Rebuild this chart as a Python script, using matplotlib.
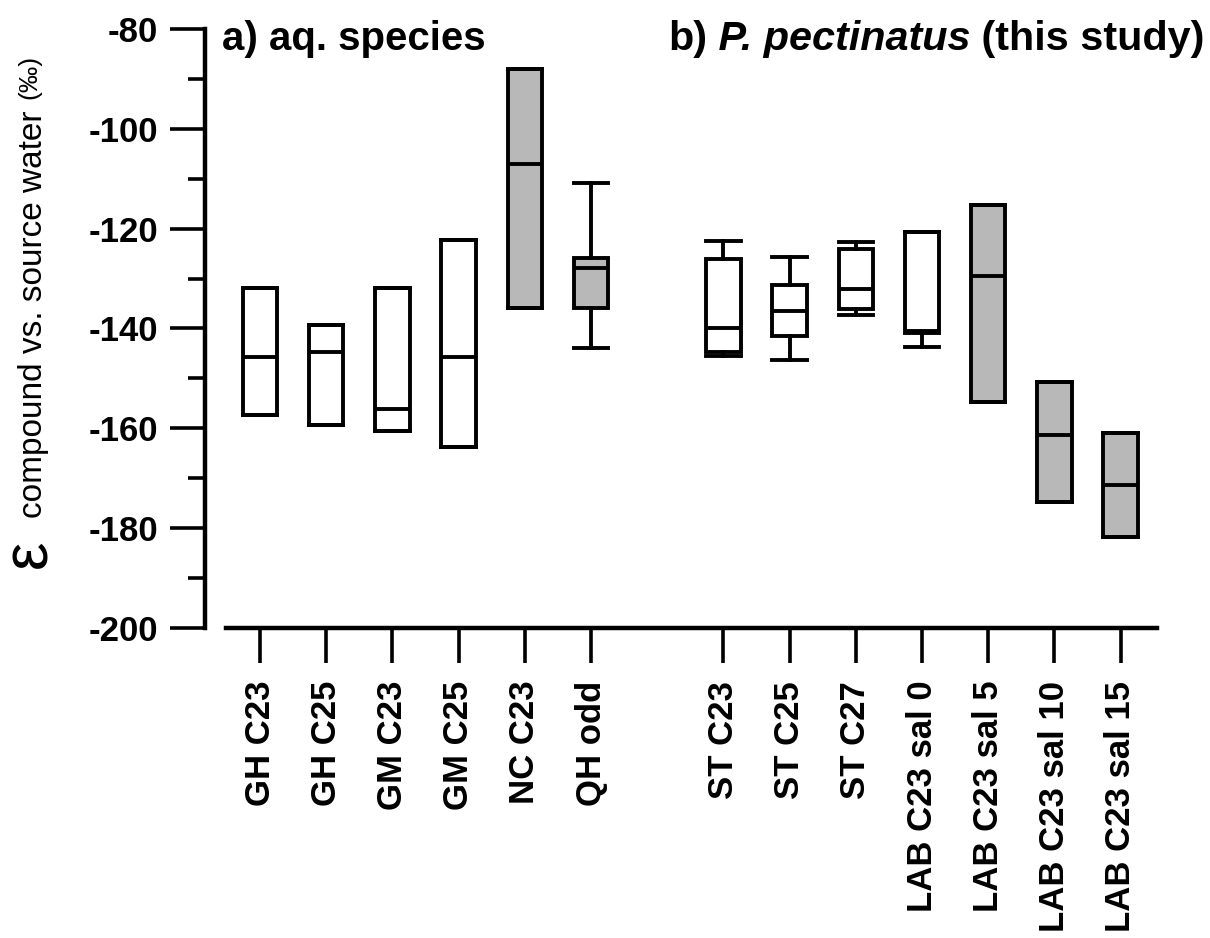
import numpy as np
import matplotlib.pyplot as plt

# categories
labels = ['GH C23', 'GH C25', 'GM C23', 'GM C25', 'NC C23', 'QH odd',
          'ST C23', 'ST C25', 'ST C27', 'LAB C23 sal 0', 'LAB C23 sal 5',
          'LAB C23 sal 10', 'LAB C23 sal 15']

# box statistics (permil)
whisk_hi = [-131.9, -139.3, -131.9, -122.3, -88.0, -110.9,
            -122.5, -125.7, -122.7, -120.7, -115.3, -150.7, -161.0]
box_top = [-131.9, -139.3, -131.9, -122.3, -88.0, -125.9,
           -126.1, -131.3, -124.1, -120.7, -115.3, -150.7, -161.0]
median = [-145.7, -144.7, -156.2, -145.7, -107.1, -127.9,
          -139.9, -136.5, -132.1, -140.5, -129.5, -161.4, -171.4]
box_bot = [-157.4, -159.4, -160.6, -163.8, -135.9, -135.9,
           -144.7, -141.5, -136.1, -141.0, -154.7, -174.8, -181.8]
whisk_lo = [-157.4, -159.4, -160.6, -163.8, -135.9, -143.9,
            -145.5, -146.3, -137.3, -143.7, -154.7, -174.8, -181.8]
filled = [False, False, False, False, True, True,
          False, False, False, False, True, True, True]

plt.rcParams['font.family'] = ['Liberation Sans', 'DejaVu Sans']
plt.rcParams['axes.unicode_minus'] = False

W, H = 1210, 938
fig = plt.figure(figsize=(W / 100, H / 100), dpi=100)
ax = fig.add_axes([205 / W, (H - 628) / H, 1005 / W, 599 / H])

# gap of one slot between the two groups
positions = [i if i < 6 else i + 1 for i in range(len(labels))]

stats = []
for i in range(len(labels)):
    stats.append(dict(whislo=whisk_lo[i], q1=box_bot[i], med=median[i],
                      q3=box_top[i], whishi=whisk_hi[i], label=labels[i]))

lw = 2.8
bp = ax.bxp(stats, positions=positions, widths=0.52, capwidths=0.52,
            patch_artist=True, showfliers=False,
            boxprops=dict(linewidth=lw, edgecolor='black'),
            whiskerprops=dict(linewidth=lw, color='black'),
            capprops=dict(linewidth=lw, color='black'),
            medianprops=dict(linewidth=lw, color='black'))
for patch, f in zip(bp['boxes'], filled):
    patch.set_facecolor('#b8b8b8' if f else 'white')

ax.set_xlim(-0.831, 14.35)
ax.set_ylim(-200, -80)

for s in ['top', 'right']:
    ax.spines[s].set_visible(False)
ax.spines['left'].set_linewidth(3.2)
ax.spines['bottom'].set_linewidth(3.2)
ax.spines['bottom'].set_bounds(-0.51, 13.55)

ax.set_xticks(positions)
ax.set_xticklabels(labels, rotation=90, fontsize=25, fontweight='bold')
ax.tick_params(axis='x', length=25, width=2.6, pad=13)

ax.set_yticks(np.arange(-200, -79, 20))
ax.set_yticks(np.arange(-190, -80, 20), minor=True)
ax.tick_params(axis='y', which='major', length=25, width=2.6, pad=9, labelsize=25)
ax.tick_params(axis='y', which='minor', length=12.5, width=2.6)
for t in ax.get_yticklabels():
    t.set_fontweight('bold')


def fx(px):
    return px / W


def fy(py):
    return 1 - py / H


# panel titles
fig.text(fx(222), fy(50), 'a) aq. species', fontsize=29, fontweight='bold', va='baseline')
t1 = fig.text(fx(668), fy(50), 'b)', fontsize=29.8, fontweight='bold', va='baseline')
t2 = ax.annotate(' P. pectinatus', xy=(1, 0), xycoords=t1, va='bottom', ha='left',
                 fontsize=29.8, fontweight='bold', style='italic', annotation_clip=False)
ax.annotate(' (this study)', xy=(1, 0), xycoords=t2, va='bottom', ha='left',
            fontsize=29.8, fontweight='bold', annotation_clip=False)

# y-axis label in pieces
fig.text(fx(46), fy(568), '\u03b5', fontsize=46, rotation=90,
         rotation_mode='anchor', ha='left', va='baseline')
fig.text(fx(42), fy(518), 'compound vs. source water', fontsize=24, rotation=90,
         rotation_mode='anchor', ha='left', va='baseline')
fig.text(fx(36), fy(99), '(\u2030)', fontsize=19, rotation=90,
         rotation_mode='anchor', ha='left', va='baseline')

fig.savefig('out.png', dpi=100)
